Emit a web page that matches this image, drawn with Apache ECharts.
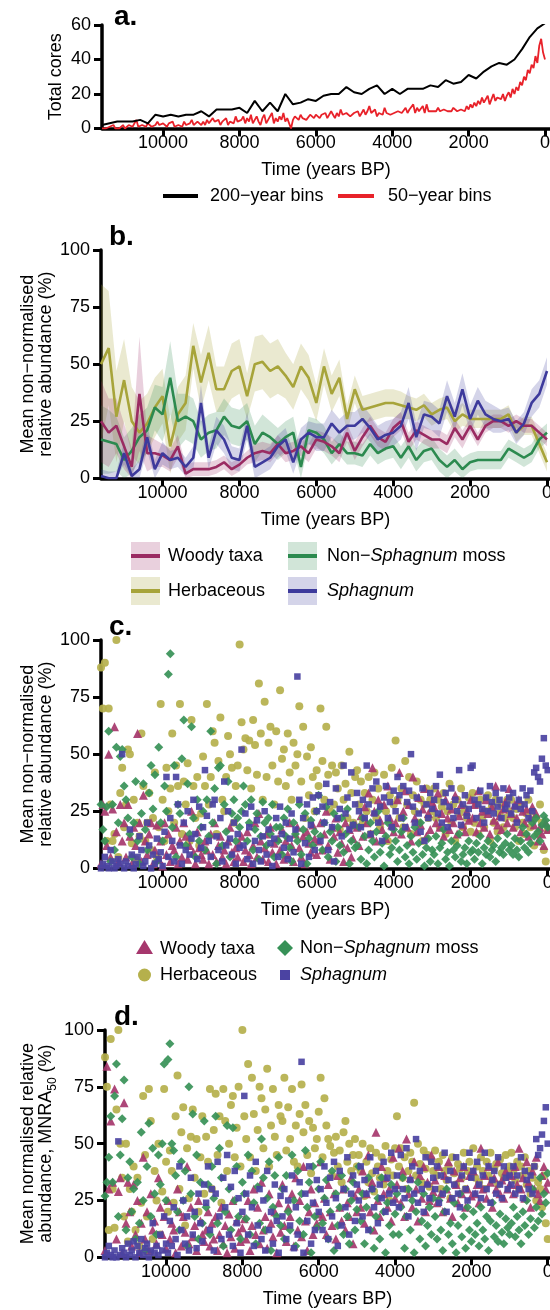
<!DOCTYPE html>
<html>
<head>
<meta charset="utf-8">
<script src="https://cdn.jsdelivr.net/npm/echarts@6/dist/echarts.min.js"></script>
<style>
  html, body { margin: 0; padding: 0; background: #fff; }
  #chart { width: 550px; height: 1310px; }
</style>
</head>
<body>
<div id="chart"></div>
<script>
// ---- bin positions (years BP, oldest first) ----
const years200 = [];
for (let t = 11600; t >= 0; t -= 200) years200.push(t);   // 59 bins
const years50 = [];
for (let t = 11600; t >= 0; t -= 50) years50.push(t);     // 233 bins

const xTicks = [10000, 8000, 6000, 4000, 2000, 0];
const yTicksCores = [0, 20, 40, 60];
const yTicksPct = [0, 25, 50, 75, 100];

// ---- a. number of cores per bin ----
const cores200 = [2,3,4,4,4,5,3,8,7,8, 7,8,8,10,7,11,11,11,12,9, 16,10,15,10,20,14,15,17,16,19,
  20,20,24,21,20,23,25,20,23,20, 23,23,23,25,24,28,26,27,31,29, 33,36,38,37,40,46,53,58,61];
const cores50 = [
  0,1,0,0,1,0,2,0,1,0,1,2,0,
  1,2,3,1,2,5,1,0,2,1,1,3,2,1,0,2,4,2,1,3,
  2,1,3,2,4,1,0,2,3,1,4,2,1,3,5,2,1,4,3,2,
  4,2,5,3,2,6,4,3,5,2,4,3,6,2,4,5,3,7,4,3,
  5,7,3,6,4,8,3,5,7,4,2,6,8,3,5,4,9,3,6,4,
  7,5,9,4,6,3,0,5,7,6,5,8,6,7,5,6,8,7,6,8,
  7,6,8,7,9,6,7,10,8,6,9,7,11,8,7,9,10,7,8,9,
  8,10,7,9,11,8,10,13,9,8,11,7,9,10,8,12,9,10,8,9,
  9,8,10,11,9,10,12,9,11,10,14,9,12,10,11,13,9,14,10,11,
  10,11,10,12,10,9,11,10,10,11,10,12,11,10,10,11,12,10,13,11,
  14,12,15,13,16,14,18,15,16,19,14,17,20,16,18,19,17,20,16,19,
  21,18,23,20,24,22,27,25,30,28,34,32,37,35,42,38,48,52,44,40];

// ---- b. 200-year mean abundance and band half-widths ----
const woodyMean = [25,20,23,14,5,37,11,11,10,8, 14,2,4,4,4,5,7,4,6,9, 11,12,11,15,11,12,14,11,17,16,
  14,11,20,12,18,23,18,16,22,25, 16,21,19,17,17,15,22,17,23,17, 23,25,25,23,25,23,23,20,17];
const woodySpread = [18,15,12,10,8,25,8,6,5,5, 5,4,3,3,3,3,3,3,3,3, 4,4,4,4,4,4,4,4,4,4,
  4,4,4,4,4,4,4,4,4,4, 4,4,4,4,4,4,4,4,3,3, 3,3,3,3,3,3,3,3,3];
const herbMean = [50,57,27,43,25,20,24,31,36,14, 28,33,58,42,55,39,39,47,49,36, 50,51,47,49,45,40,49,44,33,49,
  37,44,26,39,30,31,32,33,33,32, 31,30,32,28,30,31,25,28,26,26, 26,26,26,28,20,23,23,15,7];
const herbSpread = [35,25,20,18,15,14,13,13,12,12, 12,12,10,12,12,10,10,12,12,10, 12,12,12,12,10,10,10,10,8,8,
  8,8,6,6,6,6,6,6,6,6, 5,5,5,5,5,5,5,5,4,4, 4,4,4,4,4,4,4,4,4];
const mossMean = [17,16,15,8,12,18,21,31,28,44, 25,27,25,17,20,21,27,23,22,25, 15,20,18,15,18,20,5,21,20,17,
  11,15,11,11,10,15,11,13,14,9, 14,8,12,13,8,5,8,4,7,8, 8,8,8,13,11,9,11,17,20];
const mossSpread = [15,14,12,10,10,10,10,10,12,16, 12,10,10,8,8,8,8,8,8,8, 8,8,7,7,7,7,6,6,6,6,
  5,5,5,5,5,5,5,5,5,5, 5,5,5,5,5,5,5,5,4,4, 4,4,4,4,4,4,4,4,4];
const sphMean = [1,0,0,11,1,4,18,4,11,8, 9,5,9,33,9,21,17,9,8,23, 5,7,9,14,17,7,17,20,18,18,
  24,20,23,23,26,22,17,19,20,23, 33,18,28,27,24,36,27,39,26,34, 28,26,25,26,20,24,33,37,47];
const sphSpread = [3,3,3,5,3,4,6,4,5,4, 4,4,5,8,5,6,6,5,5,6, 5,5,5,5,5,5,5,5,6,6,
  6,6,6,6,6,6,6,6,6,6, 7,6,6,6,6,7,6,7,6,6, 6,6,5,5,5,5,6,6,6];

// ---- c. 50-year mean non-normalised abundance ----
const woodyC = [
  2,28,25,10,50,5,26,62,16,3,28,12,20,
  5,28,14,2,18,10,59,20,3,32,12,6,15,20,2,8,19,4,12,1,
  20,6,15,3,10,8,18,2,12,5,20,14,4,10,25,7,2,16,9,6,
  4,12,8,2,15,6,20,3,10,14,5,8,2,12,18,7,3,9,5,11,
  14,3,8,16,6,2,10,20,5,24,12,4,9,15,3,18,7,11,2,13,
  8,17,4,12,6,20,10,3,15,18,9,5,14,2,16,11,7,19,13,6,
  12,20,8,15,25,10,4,18,14,22,7,16,11,3,20,9,17,5,13,19,
  18,10,23,14,27,20,33,15,44,25,12,30,21,17,28,13,36,22,19,16,
  20,30,42,15,25,34,18,28,12,40,22,16,31,19,26,35,14,24,17,29,
  27,20,33,18,24,14,30,22,17,26,20,32,15,23,28,19,16,25,21,30,
  22,28,16,34,20,25,18,30,24,15,27,21,36,19,23,17,26,29,20,35,
  24,18,28,22,30,16,25,20,26,14,22,27,19,24,12,18,15,10,20,17];
const herbC = [
  88,70,90,12,70,28,12,15,100,5,33,44,18,
  28,52,50,11,30,4,20,14,59,36,12,20,33,8,22,42,5,18,72,30,
  12,44,25,35,59,20,45,36,72,15,38,28,46,12,65,36,22,40,10,24,
  49,36,72,28,40,60,55,15,47,66,30,25,40,58,50,44,20,36,45,98,
  64,52,57,43,56,35,65,54,41,81,59,30,73,40,55,62,45,28,60,38,
  78,48,52,36,59,42,30,55,45,50,71,38,62,22,49,32,53,40,25,43,
  36,70,47,30,62,41,25,45,28,42,35,17,45,30,37,22,51,33,20,40,
  43,28,38,20,33,25,40,15,30,42,22,35,18,27,41,25,12,32,44,28,
  56,30,22,35,18,47,28,40,15,32,25,38,20,30,12,28,35,22,30,25,
  35,22,30,18,27,33,15,25,37,20,28,12,30,24,35,18,26,22,31,16,
  33,20,28,15,30,22,18,25,32,12,27,20,30,16,24,28,18,22,30,25,
  30,22,18,26,12,28,20,15,24,30,18,25,10,22,15,28,20,8,3,17];
const mossC = [
  28,17,12,27,60,3,28,8,53,20,49,52,36,
  30,22,15,5,20,38,12,2,24,37,17,8,33,45,26,41,3,53,20,12,
  36,25,85,94,18,45,5,28,24,48,65,10,37,15,62,22,5,30,12,18,
  25,8,30,14,60,20,35,2,44,45,10,28,16,38,5,24,30,12,22,18,
  25,36,28,12,20,30,8,17,24,4,14,29,20,10,22,15,28,5,18,12,
  18,6,22,14,26,9,3,20,15,12,28,6,17,24,2,13,21,10,16,25,
  32,14,8,20,27,5,16,12,24,3,18,10,22,7,15,26,2,12,19,9,
  10,18,4,22,14,2,8,20,12,5,16,25,7,11,1,14,20,6,9,17,
  12,3,8,16,22,5,10,2,14,7,18,4,11,20,6,1,9,13,3,8,
  6,14,2,9,11,17,4,7,1,12,8,5,10,15,3,6,9,2,12,7,
  8,4,11,7,14,2,9,6,12,5,8,10,3,13,7,9,6,11,15,8,
  10,6,13,8,5,12,18,9,15,7,11,20,14,22,16,12,19,23,21,18];
const sphC = [
  0,2,5,1,0,8,3,0,1,4,2,50,0,
  3,1,17,6,0,2,5,14,8,1,3,20,10,0,6,2,13,4,7,1,
  16,40,5,22,12,3,40,28,10,2,20,8,25,6,13,30,15,4,27,9,
  18,43,23,12,5,28,30,14,8,22,3,38,10,25,13,6,20,2,15,9,
  52,10,24,4,18,27,2,12,21,8,3,14,25,6,17,11,1,13,22,5,
  27,15,9,20,4,13,24,7,17,84,30,2,22,11,28,5,19,31,8,25,
  32,12,27,20,37,8,29,18,3,35,22,26,14,45,24,31,17,42,19,28,
  33,25,18,30,22,45,28,15,35,24,38,20,27,12,31,36,22,29,18,34,
  25,40,32,22,36,18,29,34,50,27,20,31,24,16,35,12,28,22,33,26,
  30,36,24,41,20,29,33,18,27,35,22,30,25,43,19,28,32,23,26,44,
  45,30,22,28,34,26,20,31,25,36,29,24,33,27,30,22,35,26,28,31,
  24,33,27,20,30,26,35,28,32,22,34,25,42,44,40,38,48,57,45,43];

// ---- d. 50-year mean normalised abundance (MNRA50) ----
const woodyD = [
  3,84,30,60,33,74,8,29,35,2,68,15,33,
  20,5,32,10,25,2,15,44,8,20,3,28,12,16,6,35,22,10,18,4,
  25,8,15,12,2,30,20,5,18,11,40,6,22,9,14,3,25,16,10,7,
  12,20,5,15,8,18,3,10,22,6,14,2,19,9,25,4,16,11,7,13,
  17,8,25,3,14,30,10,22,6,33,12,18,4,28,15,9,20,2,24,11,
  32,14,7,22,18,28,5,35,12,25,9,40,16,3,20,30,10,24,15,19,
  42,18,26,10,32,20,14,28,8,36,22,16,30,12,24,18,35,6,27,20,
  30,22,38,15,28,45,20,33,12,55,25,18,40,28,35,22,30,16,44,26,
  32,48,24,38,18,52,28,35,22,42,30,16,36,26,40,20,33,25,45,29,
  34,24,40,28,20,36,30,42,26,18,38,32,24,35,28,40,22,30,36,27,
  38,28,32,24,48,30,36,26,40,33,22,35,30,42,28,34,26,38,30,32,
  36,28,40,32,48,30,35,26,42,33,22,38,30,44,28,25,36,40,30,33];
const herbD = [
  88,75,12,96,30,13,65,100,50,35,18,50,7,
  30,20,40,12,35,5,24,71,45,18,74,60,8,38,25,50,10,29,74,42,
  20,47,38,24,62,80,30,55,66,14,48,26,53,65,35,52,20,44,62,28,
  53,42,74,30,56,72,45,62,24,74,60,38,50,67,71,44,57,75,40,100,
  62,52,85,44,79,63,38,56,75,70,48,65,83,40,58,74,53,45,67,62,
  60,79,47,66,52,74,42,58,40,63,76,55,67,45,60,37,57,48,52,64,
  79,44,70,58,52,49,36,46,53,40,47,33,55,60,42,50,38,45,52,40,
  45,38,50,27,42,33,48,37,29,46,40,35,44,32,49,38,25,43,36,48,
  62,40,48,35,44,30,38,46,42,68,36,50,41,33,47,39,45,31,43,38,
  47,36,42,30,45,38,34,40,26,44,37,32,41,39,35,46,30,38,42,36,
  48,35,40,33,44,38,30,42,36,46,34,39,41,32,43,37,35,45,38,40,
  46,38,34,42,30,40,36,44,32,38,28,35,40,25,33,30,22,36,15,8];
const mossD = [
  27,33,44,62,33,71,85,18,45,61,78,12,35,
  42,20,30,8,33,15,55,25,3,40,59,18,48,28,10,45,32,50,85,25,
  87,94,50,47,36,20,12,42,25,38,5,75,28,63,18,45,8,33,15,60,
  22,32,10,40,26,62,15,48,35,5,20,58,30,12,57,25,40,18,8,33,
  28,17,45,10,38,24,6,31,15,52,35,12,26,42,3,22,36,18,44,14,
  30,8,36,20,12,45,25,5,38,16,28,10,47,22,33,2,40,18,13,30,
  42,15,26,34,8,20,38,3,28,14,22,36,10,30,18,6,25,33,12,21,
  40,16,28,6,22,35,12,30,4,18,26,8,35,20,2,24,14,32,10,19,
  28,10,22,35,4,18,30,12,25,2,20,33,8,16,28,5,14,22,10,26,
  18,8,25,12,3,20,30,10,15,6,24,2,14,28,9,18,4,22,12,7,
  20,10,15,5,22,12,8,18,3,16,24,9,14,7,19,11,6,17,13,10,
  15,22,9,18,12,6,20,14,25,10,17,30,13,22,16,35,19,28,24,37];
const sphD = [
  0,2,5,1,0,3,0,51,1,4,2,0,6,
  1,3,7,0,5,2,8,1,4,6,0,3,15,2,5,1,10,3,18,6,
  2,16,5,22,8,1,40,12,25,6,18,3,35,10,20,4,28,15,7,32,
  24,40,12,30,3,28,42,18,8,35,22,45,10,31,5,38,15,26,2,20,
  71,28,10,36,22,5,42,14,30,8,25,3,38,12,20,6,32,16,2,27,
  18,30,8,25,14,36,4,22,10,33,86,2,28,16,40,6,24,12,34,20,
  30,12,40,24,8,35,18,42,26,5,38,14,30,22,44,10,28,36,16,32,
  25,40,18,34,28,12,44,30,22,38,15,32,26,42,20,35,28,46,24,30,
  36,22,45,30,26,48,18,34,40,28,52,24,38,30,20,44,32,26,42,35,
  30,40,24,36,28,46,20,34,38,26,32,44,28,22,36,40,30,25,46,35,
  38,28,42,32,26,36,46,30,40,24,34,38,28,44,32,26,40,35,30,36,
  32,40,28,36,30,44,26,38,34,30,36,28,40,52,45,48,54,60,66,50];

// ---- styling ----
const FONT = '"Liberation Sans", Arial, Helvetica, sans-serif';
const INK = '#000';
const COL = {
  woody: { line: '#9a2b62', band: 'rgba(154,43,98,0.22)', pt: '#a6376d' },
  herb:  { line: '#a7a43a', band: 'rgba(167,164,58,0.24)', pt: '#b5b04c' },
  moss:  { line: '#2c8a4f', band: 'rgba(44,138,79,0.22)', pt: '#379157' },
  sph:   { line: '#3d3a9c', band: 'rgba(61,58,156,0.22)', pt: '#4b43a2' },
  bins200: '#000', bins50: '#e8222a'
};

const pair = (xs, ys) => xs.map((x, i) => [x, ys[i]]);
const plain = v => String(v);

const grids = [
  { left: 102, right: 0, top: 25,   height: 103.5 },
  { left: 101, right: 0, top: 250,  height: 228.3 },
  { left: 101, right: 0, top: 640,  height: 228.3 },
  { left: 105, right: 0, top: 1030, height: 227.3 }
].map(g => Object.assign(g, { containLabel: false, outerBoundsMode: 'none' }));
const xMins = [-131, -78, -60, -60];

function xAxisFor(i) {
  return {
    type: 'value', gridIndex: i, inverse: true, min: xMins[i], max: 11600,
    name: 'Time (years BP)', nameLocation: 'middle', nameGap: 33,
    nameTextStyle: { fontSize: 18, color: INK, fontFamily: FONT },
    axisLine: { show: true, onZero: false, lineStyle: { color: INK, width: 3.5 } },
    axisTick: { show: true, length: 8, lineStyle: { color: INK, width: 3 }, customValues: xTicks },
    axisLabel: { fontSize: 18, color: INK, fontFamily: FONT, margin: 6, customValues: xTicks,
      hideOverlap: false, formatter: plain },
    splitLine: { show: false }
  };
}

function yAxisFor(i, max, ticks, name, gap, rich) {
  return {
    type: 'value', gridIndex: i, min: 0, max: max,
    name: name, nameLocation: 'middle', nameGap: gap, nameRotate: 90, nameMoveOverlap: false,
    nameTextStyle: { fontSize: 18, lineHeight: 18, color: INK, fontFamily: FONT, rich: rich || {} },
    axisLine: { show: true, onZero: false, lineStyle: { color: INK, width: 3.5 } },
    axisTick: { show: true, length: 8, lineStyle: { color: INK, width: 3 }, customValues: ticks },
    axisLabel: { fontSize: 18, color: INK, fontFamily: FONT, margin: 11, customValues: ticks, formatter: plain },
    splitLine: { show: false }
  };
}

function bandSeries(axis, mean, spread, fill) {
  const rows = years200.map((t, i) => [t, Math.max(0, mean[i] - spread[i]), Math.min(100, mean[i] + spread[i])]);
  return {
    type: 'custom', xAxisIndex: axis, yAxisIndex: axis, silent: true, clip: true,
    data: rows, encode: { x: 0, y: [1, 2] },
    renderItem: function (params, api) {
      if (params.dataIndex !== 0) return null;
      const upper = rows.map(r => api.coord([r[0], r[2]]));
      const lower = rows.map(r => api.coord([r[0], r[1]])).reverse();
      return { type: 'polygon', shape: { points: upper.concat(lower) }, style: { fill: fill } };
    }
  };
}

function meanLine(axis, mean, color) {
  return {
    type: 'line', xAxisIndex: axis, yAxisIndex: axis, data: pair(years200, mean),
    symbol: 'none', lineStyle: { color: color, width: 2.6 }, silent: true
  };
}

function scatter(axis, ys, symbol, size, color) {
  return {
    type: 'scatter', xAxisIndex: axis, yAxisIndex: axis, data: pair(years50, ys),
    symbol: symbol, symbolSize: size, itemStyle: { color: color, opacity: 0.92 }, silent: true
  };
}

const ylabNonNorm = 'Mean non\u2212normalised\nrelative abundance (%)';
const ylabNorm = 'Mean normalised relative\n{n|abundance, MNRA}{s|50}{n| (%)}';
const normRich = {
  n: { fontSize: 18, fontFamily: FONT, color: INK, lineHeight: 18 },
  s: { fontSize: 12, fontFamily: FONT, color: INK, lineHeight: 12, verticalAlign: 'bottom', padding: [0, 0, -4, 0] }
};

// ---- legends and panel letters ----
function txt(x, y, text, extra) {
  return {
    type: 'text', silent: true,
    style: Object.assign({
      x: x, y: y, text: text, fill: INK, fontSize: 18, fontFamily: FONT,
      align: 'left', textAlign: 'left', verticalAlign: 'middle', textVerticalAlign: 'middle'
    }, extra || {})
  };
}
function letter(x, baseline, s) {
  return txt(x, baseline + 5, s, { fontSize: 28, fontWeight: 'bold', verticalAlign: 'bottom', textVerticalAlign: 'bottom' });
}
function seg(x1, x2, y, color) {
  return { type: 'line', silent: true, shape: { x1: x1, y1: y, x2: x2, y2: y }, style: { stroke: color, lineWidth: 4 } };
}
function swatch(x, y, c) {
  return [
    { type: 'rect', silent: true, shape: { x: x, y: y, width: 29, height: 28 }, style: { fill: c.band } },
    seg(x, x + 29, y + 14, c.line)
  ];
}
const italicRich = {
  i: { fontStyle: 'italic', fontSize: 18, fontFamily: FONT, fill: INK }
};

const graphics = [
  letter(114, 26, 'a.'),
  letter(109, 246, 'b.'),
  letter(109, 636, 'c.'),
  letter(114, 1026, 'd.'),

  // a. legend
  seg(163, 198, 196, COL.bins200),
  txt(210, 196, '200\u2212year bins'),
  seg(338, 374, 196, COL.bins50),
  txt(388, 196, '50\u2212year bins'),

  // b. legend
  ...swatch(131, 542, COL.woody),
  txt(168, 556, 'Woody taxa'),
  ...swatch(288, 542, COL.moss),
  txt(327, 556, 'Non\u2212{i|Sphagnum} moss', { rich: italicRich }),
  ...swatch(131, 577, COL.herb),
  txt(168, 591, 'Herbaceous'),
  ...swatch(288, 577, COL.sph),
  txt(327, 591, 'Sphagnum', { fontStyle: 'italic' }),

  // c. legend
  { type: 'polygon', silent: true, shape: { points: [[144.5, 940], [153, 954], [136, 954]] }, style: { fill: COL.woody.pt } },
  txt(160, 949, 'Woody taxa'),
  { type: 'polygon', silent: true, shape: { points: [[285, 940], [293, 948], [285, 956], [277, 948]] }, style: { fill: COL.moss.pt } },
  txt(300, 948, 'Non\u2212{i|Sphagnum} moss', { rich: italicRich }),
  { type: 'circle', silent: true, shape: { cx: 144.5, cy: 975, r: 6.5 }, style: { fill: COL.herb.pt } },
  txt(160, 975, 'Herbaceous'),
  { type: 'rect', silent: true, shape: { x: 280, y: 970, width: 10, height: 10 }, style: { fill: COL.sph.pt } },
  txt(300, 975, 'Sphagnum', { fontStyle: 'italic' })
];

const option = {
  animation: false,
  backgroundColor: '#fff',
  textStyle: { fontFamily: FONT, color: INK },
  grid: grids,
  xAxis: [0, 1, 2, 3].map(xAxisFor),
  yAxis: [
    yAxisFor(0, 60, yTicksCores, 'Total cores', 37),
    yAxisFor(1, 100, yTicksPct, ylabNonNorm, 46),
    yAxisFor(2, 100, yTicksPct, ylabNonNorm, 46),
    yAxisFor(3, 100, yTicksPct, ylabNorm, 50, normRich)
  ],
  graphic: graphics,
  series: [
    // a.
    { type: 'line', xAxisIndex: 0, yAxisIndex: 0, data: pair(years200, cores200), symbol: 'none',
      lineStyle: { color: COL.bins200, width: 2 }, silent: true, z: 3 },
    { type: 'line', xAxisIndex: 0, yAxisIndex: 0, data: pair(years50, cores50), symbol: 'none',
      lineStyle: { color: COL.bins50, width: 1.8 }, silent: true, z: 2 },
    // b. bands then means
    bandSeries(1, herbMean, herbSpread, COL.herb.band),
    bandSeries(1, mossMean, mossSpread, COL.moss.band),
    bandSeries(1, woodyMean, woodySpread, COL.woody.band),
    bandSeries(1, sphMean, sphSpread, COL.sph.band),
    meanLine(1, herbMean, COL.herb.line),
    meanLine(1, mossMean, COL.moss.line),
    meanLine(1, woodyMean, COL.woody.line),
    meanLine(1, sphMean, COL.sph.line),
    // c.
    scatter(2, herbC, 'circle', 8, COL.herb.pt),
    scatter(2, woodyC, 'triangle', 9, COL.woody.pt),
    scatter(2, mossC, 'diamond', 9, COL.moss.pt),
    scatter(2, sphC, 'rect', 6.5, COL.sph.pt),
    // d.
    scatter(3, herbD, 'circle', 8, COL.herb.pt),
    scatter(3, woodyD, 'triangle', 9, COL.woody.pt),
    scatter(3, mossD, 'diamond', 9, COL.moss.pt),
    scatter(3, sphD, 'rect', 6.5, COL.sph.pt)
  ]
};

const chart = echarts.init(document.getElementById('chart'), null, { renderer: 'canvas' });
chart.setOption(option);
</script>
</body>
</html>
